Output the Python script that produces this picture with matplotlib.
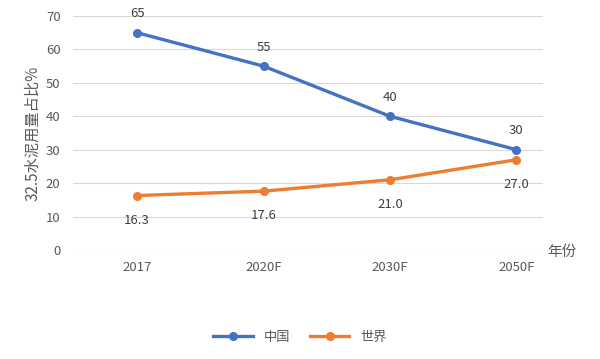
import matplotlib.pyplot as plt

plt.rcParams['font.family'] = ['Noto Sans CJK SC', 'DejaVu Sans']

years = ["2017", "2020F", "2030F", "2050F"]
china = [65, 55, 40, 30]
world = [16.3, 17.6, 21.0, 27.0]
china_labels = ["65", "55", "40", "30"]
world_labels = ["16.3", "17.6", "21.0", "27.0"]

blue = "#4472C4"
orange = "#ED7D31"
gray = "#595959"

fig = plt.figure(figsize=(6, 3.59), dpi=100)
ax = fig.add_axes([73/600, 1-250/359, 470/600, 234/359])

x = range(len(years))
ax.plot(x, china, color=blue, lw=2.4, marker="o", ms=5.5, label="中国", zorder=3)
ax.plot(x, world, color=orange, lw=2.4, marker="o", ms=5.5, label="世界", zorder=3)

for i, (v, t) in enumerate(zip(china, china_labels)):
    ax.annotate(t, (i, v), xytext=(0, 9), textcoords="offset points",
                ha="center", va="bottom", fontsize=9.5, color="#404040")
for i, (v, t) in enumerate(zip(world, world_labels)):
    ax.annotate(t, (i, v), xytext=(0, -13), textcoords="offset points",
                ha="center", va="top", fontsize=9.5, color="#404040")

ax.set_xlim(-0.507, 3.21)
ax.set_ylim(0, 70)
ax.set_yticks(range(0, 71, 10))
ax.set_xticks(list(x))
ax.set_xticklabels(years)
ax.grid(axis="y", color="#D9D9D9", lw=0.8)
ax.set_axisbelow(True)
for s in ax.spines.values():
    s.set_visible(False)
ax.tick_params(length=0, colors=gray, labelsize=9.5)
ax.tick_params(axis="x", pad=8)
ax.tick_params(axis="y", pad=9)

ax.set_ylabel("32.5水泥用量占比%", color=gray, fontsize=11, labelpad=3)
fig.text(562/600, 1-252/359, "年份", color=gray, fontsize=10.5, ha="center", va="center")

ax.legend(loc="center", bbox_to_anchor=(300/600, 1-337/359), bbox_transform=fig.transFigure,
          ncol=2, frameon=False, fontsize=9.5, labelcolor=gray, handlelength=3, columnspacing=1.5)

fig.savefig("out.png", dpi=100)
